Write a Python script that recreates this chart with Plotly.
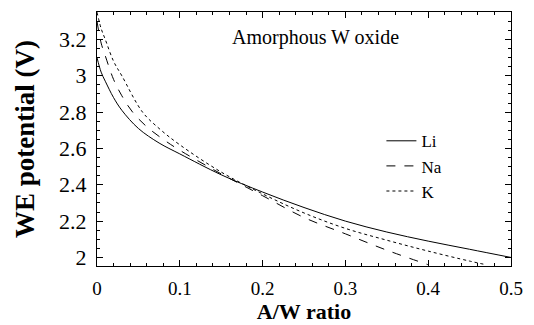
import plotly.graph_objects as go

li_x = [0.0, 0.005, 0.01, 0.02, 0.03, 0.05, 0.075, 0.1, 0.15, 0.2, 0.25, 0.3, 0.35, 0.4, 0.45, 0.5]
li_y = [3.10, 3.02, 2.97, 2.88, 2.81, 2.71, 2.63, 2.57, 2.455, 2.36, 2.275, 2.2, 2.14, 2.09, 2.045, 2.0]

na_x = [0.0, 0.005, 0.01, 0.02, 0.03, 0.043, 0.06, 0.08, 0.1, 0.15, 0.2, 0.25, 0.3, 0.35, 0.4]
na_y = [3.30, 3.18, 3.11, 2.98, 2.89, 2.80, 2.72, 2.65, 2.59, 2.46, 2.34, 2.22, 2.13, 2.04, 1.96]

k_x = [0.0, 0.005, 0.01, 0.02, 0.03, 0.055, 0.075, 0.1, 0.15, 0.2, 0.25, 0.3, 0.35, 0.4, 0.45, 0.47]
k_y = [3.35, 3.26, 3.20, 3.08, 3.00, 2.80, 2.71, 2.62, 2.47, 2.35, 2.245, 2.16, 2.095, 2.035, 1.98, 1.96]

serif = "Liberation Serif"

fig = go.Figure()
fig.add_trace(go.Scatter(x=li_x, y=li_y, mode="lines", name="Li",
                         line=dict(color="black", width=1, shape="spline", dash="solid")))
fig.add_trace(go.Scatter(x=na_x, y=na_y, mode="lines", name="Na",
                         line=dict(color="black", width=1, shape="spline", dash="dash")))
fig.add_trace(go.Scatter(x=k_x, y=k_y, mode="lines", name="K",
                         line=dict(color="black", width=1, shape="spline", dash="dot")))

fig.update_layout(
    width=534, height=325,
    margin=dict(l=97, r=16, t=11, b=46),
    paper_bgcolor="white", plot_bgcolor="white",
    font=dict(family=serif, color="black"),
    showlegend=True,
    legend=dict(x=0.687, y=0.562, xanchor="left", yanchor="top",
                bgcolor="rgba(0,0,0,0)", font=dict(size=17, family=serif),
                tracegroupgap=0),
    annotations=[dict(text="Amorphous W oxide", x=0.527, y=0.899, xref="paper", yref="paper",
                      showarrow=False, font=dict(size=20, family=serif),
                      xanchor="center", yanchor="middle")],
)

fig.update_xaxes(
    range=[0, 0.5], dtick=0.1, tick0=0,
    ticks="inside", ticklen=6, tickcolor="black", tickwidth=1,
    minor=dict(dtick=0.02, ticks="inside", ticklen=3, tickcolor="black"),
    showline=True, linecolor="black", linewidth=1, mirror="ticks",
    showgrid=False, zeroline=False,
    tickfont=dict(size=19, family=serif), ticklabelstandoff=5,
    title=dict(text="<b>A/W ratio</b>", font=dict(size=22, family=serif), standoff=0),
)
fig.update_yaxes(
    range=[1.953, 3.351], dtick=0.2, tick0=2,
    ticks="inside", ticklen=6, tickcolor="black", tickwidth=1,
    minor=dict(dtick=0.05, ticks="inside", ticklen=3, tickcolor="black"),
    showline=True, linecolor="black", linewidth=1, mirror="ticks",
    showgrid=False, zeroline=False,
    tickfont=dict(size=22, family=serif), ticklabelstandoff=5,
    title=dict(text="<b>WE potential (V)</b>", font=dict(size=27, family=serif), standoff=16),
)

fig.write_html("out.html")
